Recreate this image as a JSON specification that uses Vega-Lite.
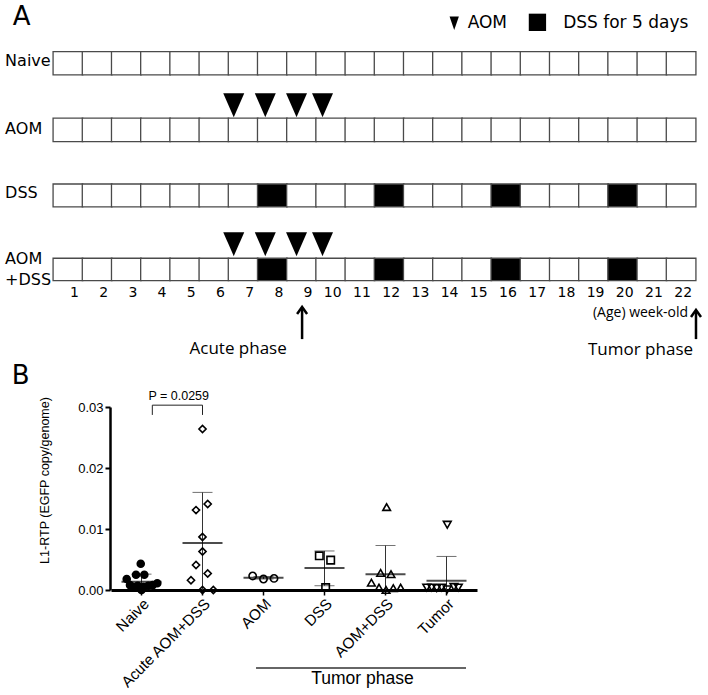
{
  "$schema": "https://vega.github.io/schema/vega-lite/v6.json",
  "width": 708,
  "height": 695,
  "autosize": {"type": "none"},
  "padding": 0,
  "background": "white",
  "config": {"view": {"stroke": null}},
  "resolve": {
    "scale": {"x": "independent", "y": "independent", "shape": "independent", "size": "independent", "fill": "independent"},
    "axis": {"x": "independent", "y": "independent"}
  },
  "layer": [
    {
      "encoding": {
        "x": {"field": "week", "type": "quantitative", "axis": null,
              "scale": {"type": "linear", "domain": [0.5, 22.5], "range": [48.3, 700.7], "nice": false, "zero": false}},
        "y": {"field": "y", "type": "quantitative", "axis": null,
              "scale": {"type": "linear", "domain": [0, 30], "range": [0, 705], "nice": false, "zero": false}}
      },
      "layer": [
        {
          "data": {"values": [
            {"row": "Naive", "y": 2.2, "y2": 3.19, "week": [1,2,3,4,5,6,7,8,9,10,11,12,13,14,15,16,17,18,19,20,21,22], "dss": [0,0,0,0,0,0,0,0,0,0,0,0,0,0,0,0,0,0,0,0,0,0]},
            {"row": "AOM", "y": 5.03, "y2": 6.03, "week": [1,2,3,4,5,6,7,8,9,10,11,12,13,14,15,16,17,18,19,20,21,22], "dss": [0,0,0,0,0,0,0,0,0,0,0,0,0,0,0,0,0,0,0,0,0,0]},
            {"row": "DSS", "y": 7.83, "y2": 8.8, "week": [1,2,3,4,5,6,7,8,9,10,11,12,13,14,15,16,17,18,19,20,21,22], "dss": [0,0,0,0,0,0,0,1,0,0,0,1,0,0,0,1,0,0,0,1,0,0]},
            {"row": "AOM+DSS", "y": 10.99, "y2": 11.94, "week": [1,2,3,4,5,6,7,8,9,10,11,12,13,14,15,16,17,18,19,20,21,22], "dss": [0,0,0,0,0,0,0,1,0,0,0,1,0,0,0,1,0,0,0,1,0,0]}
          ]},
          "transform": [{"flatten": ["week", "dss"]}],
          "mark": {"type": "bar", "width": 29.65, "stroke": "#4a4a4a", "strokeWidth": 1.3},
          "encoding": {
            "y2": {"field": "y2"},
            "fill": {"field": "dss", "type": "nominal", "legend": null,
                     "scale": {"domain": [0, 1], "range": ["white", "black"]}}
          }
        },
        {
          "data": {"values": [{"week": [1,2,3,4,5,6,7,8,9,10,11,12,13,14,15,16,17,18,19,20,21,22], "y": 12.48}]},
          "transform": [{"flatten": ["week"]}],
          "mark": {"type": "text", "align": "right", "baseline": "middle", "dx": 11, "font": "DejaVu Sans", "fontSize": 14, "color": "black"},
          "encoding": {"text": {"field": "week", "type": "nominal"}}
        },
        {
          "data": {"values": [
            {"row": "AOM", "week": 6.68, "y": 4.48}, {"row": "AOM", "week": 7.76, "y": 4.48},
            {"row": "AOM", "week": 8.83, "y": 4.48}, {"row": "AOM", "week": 9.72, "y": 4.48},
            {"row": "AOM+DSS", "week": 6.68, "y": 10.39}, {"row": "AOM+DSS", "week": 7.76, "y": 10.39},
            {"row": "AOM+DSS", "week": 8.83, "y": 10.39}, {"row": "AOM+DSS", "week": 9.72, "y": 10.39}
          ]},
          "mark": {"type": "point", "shape": "M-0.875,-1L0.875,-1L0,1Z", "size": 576, "filled": true, "color": "black", "opacity": 1}
        },
        {
          "data": {"values": [
            {"item": "AOM", "week": 14.23, "y": 0.99},
            {"item": "DSS for 5 days", "week": 17.08, "y": 0.95}
          ]},
          "mark": {"type": "point", "filled": true, "color": "black", "opacity": 1},
          "encoding": {
            "shape": {"field": "item", "type": "nominal", "legend": null,
                      "scale": {"domain": ["AOM", "DSS for 5 days"], "range": ["M-0.7,-1L0.7,-1L0,1Z", "square"]}},
            "size": {"field": "item", "type": "nominal", "legend": null,
                     "scale": {"domain": ["AOM", "DSS for 5 days"], "range": [177, 300]}}
          }
        },
        {
          "data": {"values": [
            {"label": "AOM", "week": 14.69, "y": 0.98},
            {"label": "DSS for 5 days", "week": 17.96, "y": 0.98}
          ]},
          "mark": {"type": "text", "align": "left", "baseline": "middle", "font": "DejaVu Sans", "fontSize": 17, "color": "black"},
          "encoding": {"text": {"field": "label"}}
        },
        {
          "data": {"values": [
            {"label": "Naive", "week": -1.15, "y": 2.6},
            {"label": "AOM", "week": -1.15, "y": 5.47},
            {"label": "DSS", "week": -1.15, "y": 8.23},
            {"label": "AOM", "week": -1.15, "y": 11.01},
            {"label": "+DSS", "week": -1.15, "y": 11.92}
          ]},
          "mark": {"type": "text", "align": "left", "baseline": "middle", "font": "DejaVu Sans", "fontSize": 16, "color": "black"},
          "encoding": {"text": {"field": "label"}}
        },
        {
          "data": {"values": [
            {"label": "A", "week": -0.58, "y": 0.72},
            {"label": "B", "week": -0.62, "y": 16.0}
          ]},
          "mark": {"type": "text", "align": "center", "baseline": "middle", "font": "DejaVu Sans", "fontSize": 26, "color": "black"},
          "encoding": {"text": {"field": "label"}}
        },
        {
          "data": {"values": [
            {"label": "Acute phase", "week": 6.83, "y": 14.87},
            {"label": "Tumor phase", "week": 20.61, "y": 14.91}
          ]},
          "mark": {"type": "text", "align": "center", "baseline": "middle", "font": "Open Sans", "fontSize": 17, "color": "black"},
          "encoding": {"text": {"field": "label"}}
        },
        {
          "data": {"values": [{"label": "(Age) week-old", "week": 22.24, "y": 13.34}]},
          "mark": {"type": "text", "align": "right", "baseline": "middle", "font": "Open Sans", "fontSize": 14, "color": "black"},
          "encoding": {"text": {"field": "label"}}
        },
        {
          "data": {"values": [
            {"phase": "Acute", "week": 9.02, "y": 13.12, "y2": 14.43},
            {"phase": "Tumor", "week": 22.51, "y": 13.25, "y2": 14.43}
          ]},
          "mark": {"type": "rule", "strokeWidth": 2.5, "color": "black"},
          "encoding": {"y2": {"field": "y2"}}
        },
        {
          "data": {"values": [
            {"phase": "Acute", "week": 9.02, "y": 13.21},
            {"phase": "Tumor", "week": 22.51, "y": 13.34}
          ]},
          "mark": {"type": "point", "shape": "M-1,0.7L0,-0.7L1,0.7", "size": 100, "filled": false, "strokeWidth": 2.5, "color": "black", "opacity": 1}
        }
      ]
    },
    {
      "encoding": {
        "x": {"field": "group", "type": "nominal",
              "scale": {"type": "band", "domain": ["Naive", "Acute AOM+DSS", "AOM", "DSS", "AOM+DSS", "Tumor"], "range": [111, 477], "paddingInner": 0, "paddingOuter": 0},
              "axis": {"orient": "bottom", "offset": -105, "title": null, "labelAngle": -45, "labelFont": "Liberation Sans", "labelFontSize": 15.3, "labelColor": "black",
                       "labelPadding": 1, "tickSize": 5, "tickWidth": 1.5, "tickColor": "black", "domainColor": "black", "domainWidth": 3, "grid": false, "labelOverlap": false, "labelBound": false}},
        "y": {"field": "value", "type": "quantitative",
              "scale": {"type": "linear", "domain": [0, 0.03], "range": [590, 407], "nice": false, "zero": false},
              "axis": {"orient": "left", "offset": -110, "values": [0, 0.01, 0.02, 0.03], "format": ".2f", "grid": false,
                       "labelFont": "Liberation Sans", "labelFontSize": 13, "labelColor": "black", "labelPadding": 2,
                       "tickSize": 5, "tickWidth": 2, "tickColor": "black", "domainColor": "black", "domainWidth": 2.5,
                       "title": "L1-RTP (EGFP copy/genome)", "titleFont": "Liberation Sans", "titleFontSize": 12.5, "titleFontWeight": "normal",
                       "titleColor": "black", "titlePadding": 26, "titleY": 480}}
      },
      "layer": [
        {
          "data": {"name": "summary", "values": [
            {"group": "Naive", "mean": 0.00135, "lo": 0.0001, "hi": 0.0026},
            {"group": "Acute AOM+DSS", "mean": 0.0077, "lo": 0, "hi": 0.016},
            {"group": "AOM", "mean": 0.002, "lo": 0.0018, "hi": 0.0022},
            {"group": "DSS", "mean": 0.0036, "lo": 0.0007, "hi": 0.0064},
            {"group": "AOM+DSS", "mean": 0.0026, "lo": 0, "hi": 0.0073},
            {"group": "Tumor", "mean": 0.0015, "lo": 0, "hi": 0.0055}
          ]},
          "transform": [{"fold": ["lo", "hi"], "as": ["end", "value"]}],
          "mark": {"type": "line", "color": "#333", "strokeWidth": 1},
          "encoding": {"detail": {"field": "group"}}
        },
        {
          "data": {"name": "summary"},
          "transform": [{"fold": ["lo", "hi"], "as": ["end", "value"]}, {"filter": "datum.value > 0"}],
          "mark": {"type": "tick", "color": "#333", "size": 20, "thickness": 1}
        },
        {
          "data": {"name": "summary"},
          "transform": [{"fold": ["mean"], "as": ["end", "value"]}],
          "mark": {"type": "tick", "color": "black", "size": 40, "thickness": 2}
        },
        {
          "data": {"values": [
            {"group": "Naive", "value": 0.0043, "slot": -0.1},
            {"group": "Naive", "value": 0.0025, "slot": -0.72},
            {"group": "Naive", "value": 0.0025, "slot": 0.37},
            {"group": "Naive", "value": 0.0018, "slot": -1.94},
            {"group": "Naive", "value": 0.0008, "slot": -1.51},
            {"group": "Naive", "value": 0.0005, "slot": -1.08},
            {"group": "Naive", "value": 0.0007, "slot": -0.5},
            {"group": "Naive", "value": 0.0005, "slot": 0.24},
            {"group": "Naive", "value": 0.0007, "slot": 0.89},
            {"group": "Naive", "value": 0.0008, "slot": 1.47},
            {"group": "Naive", "value": 0.0011, "slot": 2.07},
            {"group": "Naive", "value": 0.0, "slot": 0},
            {"group": "Acute AOM+DSS", "value": 0.0264, "slot": 0},
            {"group": "Acute AOM+DSS", "value": 0.0131, "slot": -0.85},
            {"group": "Acute AOM+DSS", "value": 0.0141, "slot": 0.68},
            {"group": "Acute AOM+DSS", "value": 0.0087, "slot": 0},
            {"group": "Acute AOM+DSS", "value": 0.0063, "slot": 0},
            {"group": "Acute AOM+DSS", "value": 0.0041, "slot": -0.85},
            {"group": "Acute AOM+DSS", "value": 0.0027, "slot": 0.68},
            {"group": "Acute AOM+DSS", "value": 0.0016, "slot": -1.51},
            {"group": "Acute AOM+DSS", "value": 0.0, "slot": 0},
            {"group": "Acute AOM+DSS", "value": 0.0, "slot": 1.42},
            {"group": "AOM", "value": 0.0023, "slot": -1.42},
            {"group": "AOM", "value": 0.0018, "slot": 0},
            {"group": "AOM", "value": 0.0019, "slot": 1.38},
            {"group": "DSS", "value": 0.0056, "slot": -0.68},
            {"group": "DSS", "value": 0.0049, "slot": 0.81},
            {"group": "DSS", "value": 0.0004, "slot": 0.15},
            {"group": "AOM+DSS", "value": 0.0136, "slot": 0.15},
            {"group": "AOM+DSS", "value": 0.0028, "slot": -0.64},
            {"group": "AOM+DSS", "value": 0.0026, "slot": 0.72},
            {"group": "AOM+DSS", "value": 0.0012, "slot": -1.85},
            {"group": "AOM+DSS", "value": 0.0004, "slot": -0.85},
            {"group": "AOM+DSS", "value": 0.0, "slot": 0.07},
            {"group": "AOM+DSS", "value": 0.0003, "slot": 1.02},
            {"group": "AOM+DSS", "value": 0.0004, "slot": 1.99},
            {"group": "Tumor", "value": 0.0107, "slot": 0.1},
            {"group": "Tumor", "value": 0.0004, "slot": -2.59},
            {"group": "Tumor", "value": 0.0004, "slot": -1.94},
            {"group": "Tumor", "value": 0.0003, "slot": -1.28},
            {"group": "Tumor", "value": 0.0004, "slot": -0.63},
            {"group": "Tumor", "value": 0.0001, "slot": 0.1},
            {"group": "Tumor", "value": 0.0005, "slot": 0.98},
            {"group": "Tumor", "value": 0.0004, "slot": 1.55}
          ]},
          "mark": {"type": "point", "filled": true, "stroke": "black", "strokeWidth": 1.6, "opacity": 1},
          "encoding": {
            "xOffset": {"field": "slot", "type": "quantitative", "scale": {"domain": [-4, 4], "range": [0, 61], "nice": false, "zero": false}},
            "shape": {"field": "group", "type": "nominal", "legend": null,
                      "scale": {"domain": ["Naive", "Acute AOM+DSS", "AOM", "DSS", "AOM+DSS", "Tumor"],
                                "range": ["circle", "diamond", "circle", "square", "triangle-up", "triangle-down"]}},
            "fill": {"field": "group", "type": "nominal", "legend": null,
                     "scale": {"domain": ["Naive", "Acute AOM+DSS", "AOM", "DSS", "AOM+DSS", "Tumor"],
                               "range": ["black", "transparent", "transparent", "transparent", "transparent", "transparent"]}},
            "size": {"field": "group", "type": "nominal", "legend": null,
                     "scale": {"domain": ["Naive", "Acute AOM+DSS", "AOM", "DSS", "AOM+DSS", "Tumor"],
                               "range": [49, 60, 64, 49, 55, 55]}}
          }
        },
        {
          "data": {"values": [
            {"group": "Naive", "slot": 1.42, "value": 0.0287, "k": 1},
            {"group": "Naive", "slot": 1.42, "value": 0.0303, "k": 2},
            {"group": "Acute AOM+DSS", "slot": 0, "value": 0.0303, "k": 3},
            {"group": "Acute AOM+DSS", "slot": 0, "value": 0.0287, "k": 4}
          ]},
          "mark": {"type": "line", "color": "#222", "strokeWidth": 1},
          "encoding": {
            "xOffset": {"field": "slot", "type": "quantitative", "scale": {"domain": [-4, 4], "range": [0, 61], "nice": false, "zero": false}},
            "order": {"field": "k", "type": "quantitative"}
          }
        },
        {
          "data": {"values": [{"group": "Acute AOM+DSS", "slot": -3.12, "value": 0.0318, "label": "P = 0.0259"}]},
          "mark": {"type": "text", "font": "Liberation Sans", "fontSize": 12.5, "align": "center", "baseline": "middle", "color": "black"},
          "encoding": {
            "xOffset": {"field": "slot", "type": "quantitative", "scale": {"domain": [-4, 4], "range": [0, 61], "nice": false, "zero": false}},
            "text": {"field": "label"}
          }
        },
        {
          "data": {"values": [
            {"group": "AOM", "slot": -0.98, "value": -0.0128, "k": 1},
            {"group": "Tumor", "slot": 2.56, "value": -0.0128, "k": 2}
          ]},
          "mark": {"type": "line", "color": "#333", "strokeWidth": 1.5},
          "encoding": {
            "xOffset": {"field": "slot", "type": "quantitative", "scale": {"domain": [-4, 4], "range": [0, 61], "nice": false, "zero": false}},
            "order": {"field": "k", "type": "quantitative"}
          }
        },
        {
          "data": {"values": [{"group": "AOM+DSS", "slot": -3.02, "value": -0.0146, "label": "Tumor phase"}]},
          "mark": {"type": "text", "font": "Liberation Sans", "fontSize": 17.5, "align": "center", "baseline": "middle", "color": "black"},
          "encoding": {
            "xOffset": {"field": "slot", "type": "quantitative", "scale": {"domain": [-4, 4], "range": [0, 61], "nice": false, "zero": false}},
            "text": {"field": "label"}
          }
        }
      ]
    }
  ]
}
